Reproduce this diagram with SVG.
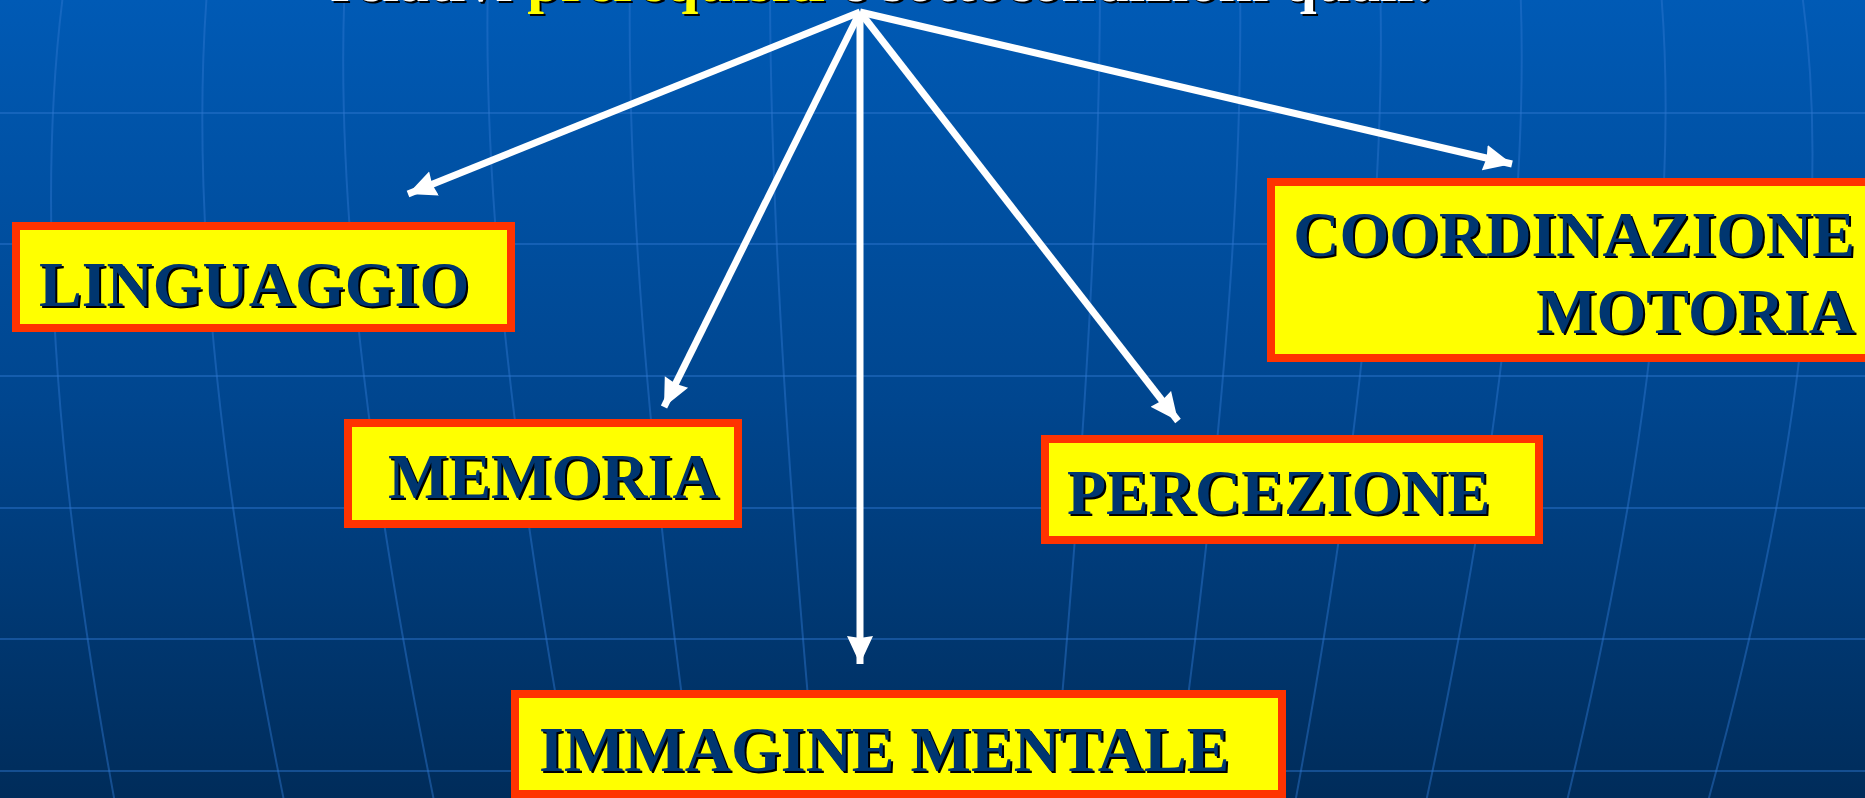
<svg xmlns="http://www.w3.org/2000/svg" width="1865" height="798" viewBox="0 0 1865 798">
<style>
.grid{fill:none;stroke:#2f78d0;stroke-opacity:0.45;stroke-width:2}
.box{fill:#ffff00;stroke:#ff3300;stroke-width:8}
.lbl{font-family:"Liberation Serif","Times New Roman",serif;font-weight:bold;font-size:64px;fill:#003670}
.sh{fill:#000000}
.ttl{font-family:"Liberation Serif","Times New Roman",serif;font-weight:bold;font-size:60px}
.conn{stroke:#ffffff;stroke-width:7;fill:none;marker-end:url(#ah)}
</style>
<defs>
<linearGradient id="bg" x1="0" y1="0" x2="0" y2="1">
<stop offset="0" stop-color="#005ab5"/>
<stop offset="0.5" stop-color="#00468f"/>
<stop offset="1" stop-color="#002c5a"/>
</linearGradient>
<marker id="ah" markerUnits="userSpaceOnUse" markerWidth="30" markerHeight="28" refX="28" refY="14" orient="auto">
<path d="M0,1 L28,14 L0,27 L2,14 z" fill="#ffffff"/>
</marker>
</defs>
<rect x="0" y="0" width="1865" height="798" fill="url(#bg)"/>
<g id="grid">
<path class="grid" d="M0,113H1865M0,244H1865M0,376H1865M0,508H1865M0,639H1865M0,771H1865"/>
<path class="grid" d="M65,-20 Q20,300 120,830"/>
<path class="grid" d="M208,-20 Q180,300 290,830"/>
<path class="grid" d="M345,-20 Q330,300 440,830"/>
<path class="grid" d="M488,-20 Q480,300 580,830"/>
<path class="grid" d="M630,-20 Q625,300 700,830"/>
<path class="grid" d="M770,-20 Q770,300 820,830"/>
<path class="grid" d="M1100,-20 Q1100,300 1050,830"/>
<path class="grid" d="M1240,-20 Q1245,300 1170,830"/>
<path class="grid" d="M1380,-20 Q1390,300 1290,830"/>
<path class="grid" d="M1520,-20 Q1535,300 1420,830"/>
<path class="grid" d="M1660,-20 Q1690,300 1560,830"/>
<path class="grid" d="M1800,-20 Q1850,300 1700,830"/>
</g>
<g id="title">
<text class="ttl sh" x="332" y="3">relativi <tspan>prerequisiti</tspan> e sottocondizioni quali:</text>
<text class="ttl" x="330" y="1" fill="#ffffff">relativi <tspan fill="#ffff00">prerequisiti</tspan> e sottocondizioni quali:</text>
</g>
<g id="connectors">
<line class="conn" x1="860" y1="12" x2="408" y2="194"/>
<line class="conn" x1="860" y1="12" x2="664" y2="407"/>
<line class="conn" x1="860" y1="12" x2="860" y2="664"/>
<line class="conn" x1="860" y1="12" x2="1178" y2="421"/>
<line class="conn" x1="860" y1="12" x2="1512" y2="164"/>
</g>
<g id="linguaggio">
<rect class="box" x="16" y="226" width="495" height="102"/>
<text class="lbl sh" x="41" y="308">LINGUAGGIO</text>
<text class="lbl" x="39" y="306">LINGUAGGIO</text>
</g>
<g id="memoria">
<rect class="box" x="348" y="423" width="390" height="101"/>
<text class="lbl sh" x="390" y="500">MEMORIA</text>
<text class="lbl" x="388" y="498">MEMORIA</text>
</g>
<g id="percezione">
<rect class="box" x="1045" y="439" width="494" height="101"/>
<text class="lbl sh" x="1069" y="516">PERCEZIONE</text>
<text class="lbl" x="1067" y="514">PERCEZIONE</text>
</g>
<g id="coordinazione">
<rect class="box" x="1271" y="182" width="620" height="176"/>
<text class="lbl sh" x="1857" y="258" text-anchor="end">COORDINAZIONE</text>
<text class="lbl" x="1855" y="256" text-anchor="end">COORDINAZIONE</text>
<text class="lbl sh" x="1857" y="335" text-anchor="end">MOTORIA</text>
<text class="lbl" x="1855" y="333" text-anchor="end">MOTORIA</text>
</g>
<g id="immagine">
<rect class="box" x="515" y="694" width="767" height="100"/>
<text class="lbl sh" x="541" y="773">IMMAGINE MENTALE</text>
<text class="lbl" x="539" y="771">IMMAGINE MENTALE</text>
</g>
</svg>
